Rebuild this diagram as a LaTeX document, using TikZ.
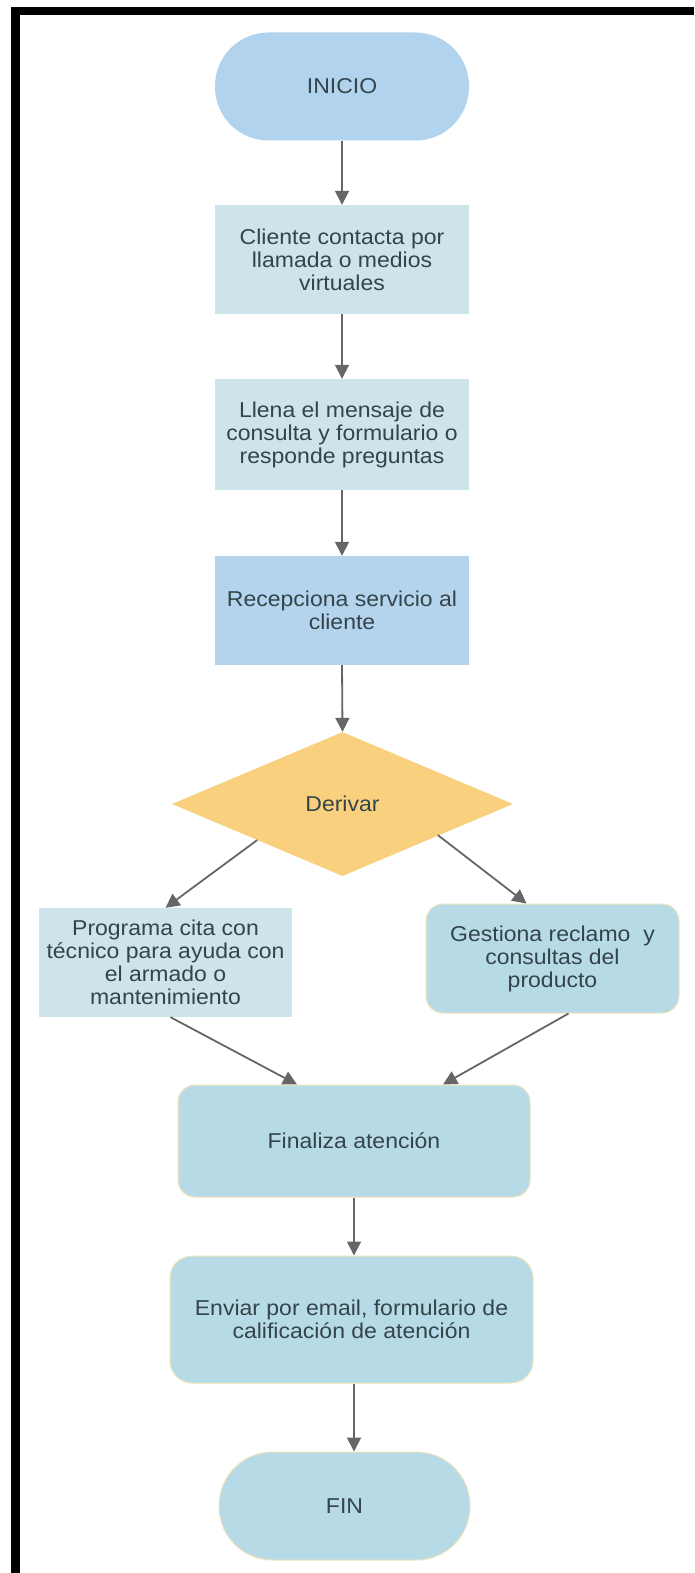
\documentclass[tikz,border=0pt]{standalone}
\usepackage{fontspec}
\setmainfont{Liberation Sans}[FakeStretch=1.07]
\usetikzlibrary{shapes.geometric,arrows.meta}
\definecolor{txt}{HTML}{35444B}
\definecolor{startblue}{HTML}{B1D3EE}
\definecolor{paleteal}{HTML}{CDE5EA}
\definecolor{recblue}{HTML}{B3D4EC}
\definecolor{decor}{HTML}{F8D07E}
\definecolor{lblue}{HTML}{B6DBE7}
\definecolor{edgey}{HTML}{F1E4BC}
\definecolor{arrgray}{HTML}{666666}
\begin{document}
\begin{tikzpicture}[x=1pt,y=-1pt,
  font=\fontsize{21.5}{23}\selectfont,
  base/.style={inner sep=0pt, align=center, text=txt},
  stadium/.style={base, rectangle, rounded corners=53.5pt, minimum width=254pt, minimum height=108pt},
  plainbox/.style={base, rectangle, fill=paleteal, minimum width=254pt, minimum height=109pt},
  roundbox/.style={base, rectangle, rounded corners=17pt, fill=lblue, draw=edgey, line width=1pt},
  arr/.style={draw=arrgray, line width=1.8pt, -{Triangle[length=14pt,width=14pt]}}
]
\useasboundingbox (0,0) rectangle (694,1573);
\fill[white] (0,0) rectangle (694,1573);
% frame
\fill[black] (11,7) rectangle (694,15);
\fill[black] (11,7) rectangle (20,1573);

\node[stadium, fill=startblue] (inicio) at (342,86.5) {INICIO};
\node[plainbox] (b1) at (342,259.5) {Cliente contacta por\\llamada o medios\\virtuales};
\node[plainbox, minimum height=111pt] (b2) at (342,434.5) {Llena el mensaje de\\consulta y formulario o\\responde preguntas};
\node[plainbox, fill=recblue] (b3) at (342,610.5) {Recepciona servicio al\\cliente};
\node[base, diamond, fill=decor, minimum width=341pt, minimum height=144pt] (derivar) at (342.5,804) {Derivar};
\node[plainbox, minimum width=253pt] (prog) at (165.5,962.5) {Programa cita con\\técnico para ayuda con\\el armado o\\mantenimiento};
\node[roundbox, minimum width=253pt, minimum height=109pt] (gest) at (552.5,958.5) {Gestiona reclamo\ \ y\\consultas del\\producto};
\node[roundbox, minimum width=352pt, minimum height=112pt] (fina) at (354,1141) {Finaliza atención};
\node[roundbox, rounded corners=22pt, minimum width=363pt, minimum height=127pt] (env) at (351.5,1319.5) {Enviar por email, formulario de\\calificación de atención};
\node[stadium, fill=lblue, draw=edgey, line width=1pt, minimum width=251pt] (fin) at (344.5,1506) {FIN};

\draw[arr] (inicio.south) -- (b1.north);
\draw[arr] (b1.south) -- (b2.north);
\draw[arr] (b2.south) -- (b3.north);
\draw[arr] (b3.south) -- (derivar.north);
\draw[arr] (derivar.south west) -- (prog.north);
\draw[arr] ([xshift=10pt,yshift=5pt]derivar.south east) -- ([xshift=-26pt]gest.north);
\draw[arr] ([xshift=5pt]prog.south) -- ([xshift=-57pt]fina.north);
\draw[arr] ([xshift=16pt]gest.south) -- ([xshift=89pt]fina.north);
\draw[arr] (fina.south) -- (fina.south |- env.north);
\draw[arr] (fina.south |- env.south) -- (fina.south |- fin.north);
\end{tikzpicture}
\end{document}
